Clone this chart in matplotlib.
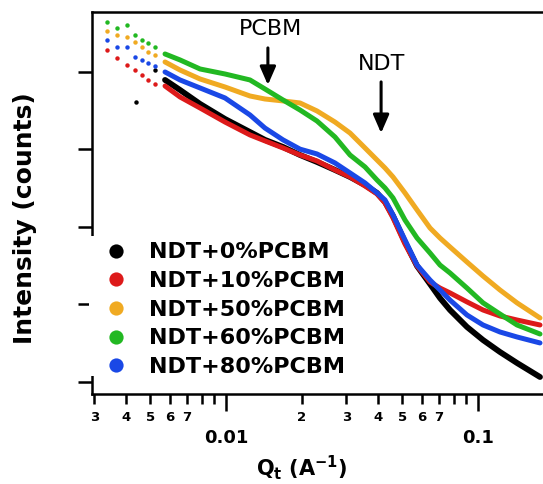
import matplotlib
matplotlib.use("Agg")
import matplotlib.pyplot as plt
from matplotlib.patches import Rectangle
from matplotlib.ticker import FixedLocator, FixedFormatter, NullLocator

# Sample names and colours
labels = ['NDT+0%PCBM', 'NDT+10%PCBM', 'NDT+50%PCBM', 'NDT+60%PCBM', 'NDT+80%PCBM']
colors = ['#000000', '#dd1a1a', '#f0aa22', '#22b822', '#1a48e6']

# low-q points, sparse (drawn as separate dots)
q_dots = [0.00337, 0.00369, 0.00405, 0.00435, 0.00464, 0.00491, 0.00522]
q_dots_0 = [0.00439, 0.00522]
I_dots_0 = [4100, 10600]
I_dots_10 = [19200, 15200, 12300, 10600, 9140, 7890, 7000]
I_dots_50 = [33800, 30000, 28300, 24400, 21000, 18100, 16600]
I_dots_60 = [44200, 37000, 40400, 30000, 25900, 23700, 21000]
I_dots_80 = [25900, 21000, 21000, 15600, 14300, 13100, 11900]

# dense part of the curves
q_line = [0.00573, 0.00657, 0.00789, 0.00991, 0.01245, 0.01428, 0.01684, 0.01967,
          0.02297, 0.02707, 0.03106, 0.03562, 0.03974, 0.04276, 0.0460, 0.05132,
          0.05728, 0.0645, 0.07067, 0.07744, 0.09042, 0.1047, 0.1222, 0.1428, 0.1762]
I_line_0 = [7890, 5860, 3870, 2475, 1680, 1330, 1077, 849, 690, 544, 442, 348, 275,
            210, 139, 64.0, 31.4, 18.4, 12.1, 8.49, 5.13, 3.48, 2.44, 1.76, 1.16]
I_line_10 = [6590, 4760, 3430, 2260, 1540, 1290, 1046, 849, 711, 544, 442, 338, 267,
             204, 131, 60.3, 31.4, 19.5, 16.3, 14.1, 10.8, 8.49, 7.11, 6.31, 5.44]
I_line_50 = [13460, 10600, 8120, 6400, 4900, 4480, 4230, 3980, 3140, 2260, 1630, 1046, 732,
             577, 442, 275, 166, 97.1, 72.1, 55.2, 35.3, 23.3, 15.4, 10.5, 6.70]
I_line_60 = [17070, 14300, 10930, 9420, 7890, 6030, 4350, 3230, 2330, 1450, 849, 595, 404,
             319, 237, 123, 72.1, 46.2, 32.3, 25.5, 16.3, 10.5, 7.54, 5.44, 4.16]
I_line_80 = [10000, 7890, 6220, 4620, 2790, 1890, 1330, 1010, 875, 670, 498, 370, 275,
             223, 143, 68.0, 32.3, 20.7, 15.4, 11.4, 7.32, 5.44, 4.42, 3.81, 3.19]

dots_q = [q_dots_0, q_dots, q_dots, q_dots, q_dots]
dots_I = [I_dots_0, I_dots_10, I_dots_50, I_dots_60, I_dots_80]
lines_I = [I_line_0, I_line_10, I_line_50, I_line_60, I_line_80]

# x tick labels
major_ticks = [0.01, 0.1]
major_labels = ['0.01', '0.1']
minor_ticks = [0.003, 0.004, 0.005, 0.006, 0.007, 0.008, 0.009,
               0.02, 0.03, 0.04, 0.05, 0.06, 0.07, 0.08, 0.09]
minor_labels = ['3', '4', '5', '6', '7', '', '', '2', '3', '4', '5', '6', '7', '', '']

fig = plt.figure(figsize=(5.43, 4.84), dpi=100)
ax = fig.add_axes([92/543, 1 - 394/484, 451/543, 382/484])

for i in range(5):
    ax.plot(dots_q[i], dots_I[i], 'o', color=colors[i], ms=3.2, mec='none', label=labels[i])
    ax.plot(q_line, lines_I[i], '-', color=colors[i], lw=3.6 if i else 4.2,
            solid_capstyle='round', solid_joinstyle='round')

ax.set_xscale('log')
ax.set_yscale('log')
ax.set_xlim(0.00294, 0.1811)
ax.set_ylim(0.70, 5.94e4)

ax.xaxis.set_major_locator(FixedLocator(major_ticks))
ax.xaxis.set_major_formatter(FixedFormatter(major_labels))
ax.xaxis.set_minor_locator(FixedLocator(minor_ticks))
ax.xaxis.set_minor_formatter(FixedFormatter(minor_labels))
ax.yaxis.set_major_locator(FixedLocator([1, 10, 100, 1000, 10000]))
ax.yaxis.set_minor_locator(NullLocator())
ax.set_yticklabels([])

ax.tick_params(axis='x', which='major', direction='out', length=12, width=1.8, pad=13,
               labelsize=13)
ax.tick_params(axis='x', which='minor', direction='out', length=7, width=1.8, pad=5,
               labelsize=9.5)
ax.tick_params(axis='y', which='major', direction='out', length=10, width=1.8)
for lab in ax.get_xticklabels(which='both'):
    lab.set_fontweight('bold')

ax.spines['right'].set_visible(False)
for s in ['left', 'bottom', 'top']:
    ax.spines[s].set_linewidth(1.8)

# the legend box hides part of the left axis line in the original
ax.add_patch(Rectangle((-0.006, 0.047), 0.012, 0.367, transform=ax.transAxes,
                       clip_on=False, fc='white', ec='none', zorder=3))

fig.text(25/543, 1 - 218/484, 'Intensity (counts)', rotation=90, ha='center', va='center',
         fontsize=18, fontweight='bold')
fig.text(302/543, 1 - 468/484, r'Q$_\mathbf{t}$ (A$^\mathbf{-1}$)', ha='center', va='center',
         fontsize=15, fontweight='bold')

# peak markers
arrow = dict(arrowstyle='-|>,head_width=0.24,head_length=0.55', lw=2.2, color='black',
             mutation_scale=20, shrinkA=0, shrinkB=0)
ax.annotate('', xy=(0.390, 0.809), xytext=(0.390, 0.906), xycoords='axes fraction',
            arrowprops=arrow)
ax.text(0.395, 0.9555, 'PCBM', transform=ax.transAxes, ha='center', va='center', fontsize=16)
ax.annotate('', xy=(0.641, 0.683), xytext=(0.641, 0.817), xycoords='axes fraction',
            arrowprops=arrow)
ax.text(0.643, 0.864, 'NDT', transform=ax.transAxes, ha='center', va='center', fontsize=16)

leg = ax.legend(loc='upper left', bbox_to_anchor=(100/543, 1 - 238/484),
                bbox_transform=fig.transFigure, borderaxespad=0, borderpad=0.2,
                handlelength=1.0, handletextpad=0.99, labelspacing=0.39, markerscale=3.2,
                prop={'weight': 'bold', 'size': 16}, frameon=False)

fig.savefig('out.png', dpi=100)
